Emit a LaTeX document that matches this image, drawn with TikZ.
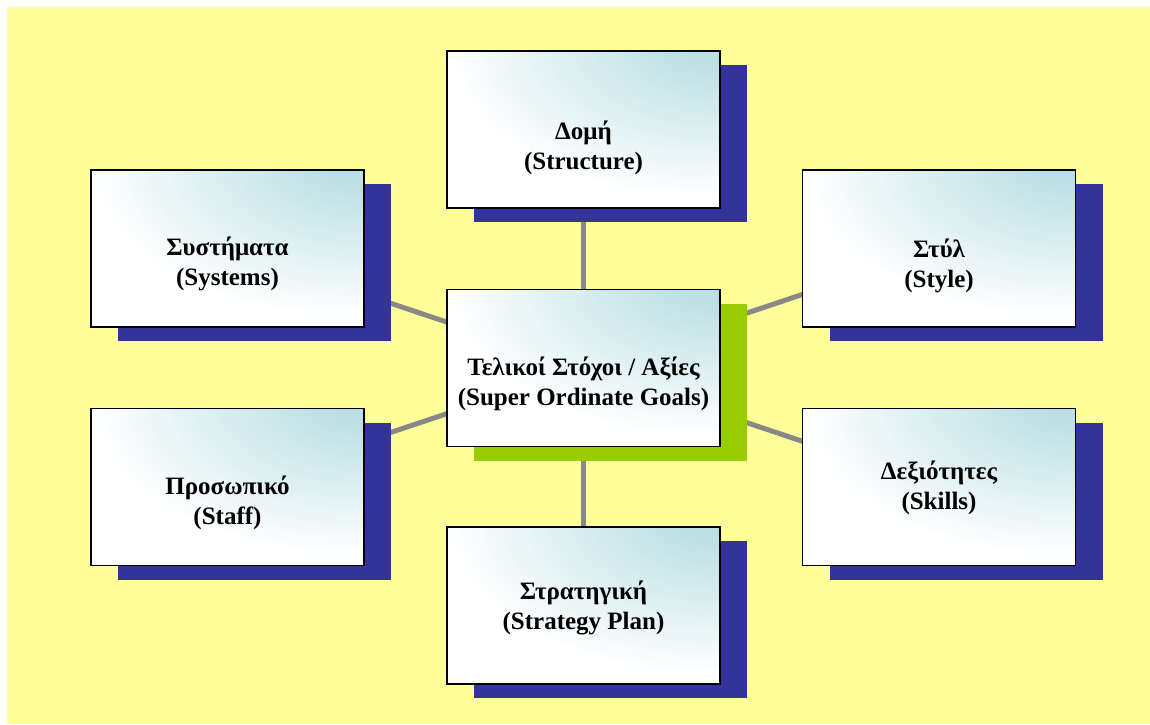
\documentclass[tikz,border=0pt]{standalone}
\usepackage{fontspec}
\setmainfont{Liberation Serif}
\usetikzlibrary{shadows,backgrounds}
\definecolor{paper}{RGB}{255,255,153}
\definecolor{navy}{RGB}{51,51,153}
\definecolor{lime}{RGB}{153,204,0}
\definecolor{aqua}{RGB}{188,224,228}
\definecolor{wire}{RGB}{136,136,136}
\pgfdeclareradialshading{glow}{\pgfpoint{28bp}{32bp}}{color(0bp)=(aqua); color(10bp)=(aqua); color(46bp)=(white); color(200bp)=(white)}
\begin{document}
\begin{tikzpicture}[x=1pt,y=-1pt]
	\tikzstyle{card} = [draw=black,line width=1.8pt,shading=glow,minimum width=273pt,minimum height=157pt,inner sep=0pt,outer sep=0pt]
	\tikzstyle{navy shadow} = [drop shadow={shadow xshift=27pt,shadow yshift=-14pt,fill=navy,opacity=1}]
	\tikzstyle{lime shadow} = [drop shadow={shadow xshift=27pt,shadow yshift=-14pt,fill=lime,opacity=1}]
	\tikzstyle{caption} = [font=\fontsize{25}{30}\selectfont\bfseries,align=center,inner sep=0pt]
	\tikzstyle{link} = [draw=wire,line width=5pt]
	\useasboundingbox (0,0) rectangle (1150,724);
	% centre box
	\node[card,lime shadow] (goals) at (583.5,368) {};
	\node[caption] (goals-text) at ([yshift=-16pt]goals.center) {Τελικοί Στόχοι / Αξίες\\(Super Ordinate Goals)};
	% outer boxes
	\foreach \name/\x/\y/\dy/\greek/\english in {struct/583.5/129.5/18/Δομή/Structure,
			sys/227.5/248.5/15/Συστήματα/Systems, style/939/248.5/17/Στύλ/Style,
			staff/227.5/487/16/Προσωπικό/Staff, skills/939/487/1/Δεξιότητες/Skills,
			strat/583.5/605.5/2/Στρατηγική/Strategy Plan}
	{
		\node[card,navy shadow] (\name) at (\x,\y) {};
		\node[caption] (\name-text) at ([yshift=-\dy pt]\name.center) {\greek\\(\english)};
	}
	% background and connections
	\begin{scope}[on background layer]
		\fill[white] (0,0) rectangle (1150,724);
		\fill[paper] (7,7) rectangle (1150,724);
		\foreach \name in {struct,sys,style,staff,skills,strat}
			\draw[link] (goals.center) -- (\name.center);
	\end{scope}
\end{tikzpicture}
\end{document}
